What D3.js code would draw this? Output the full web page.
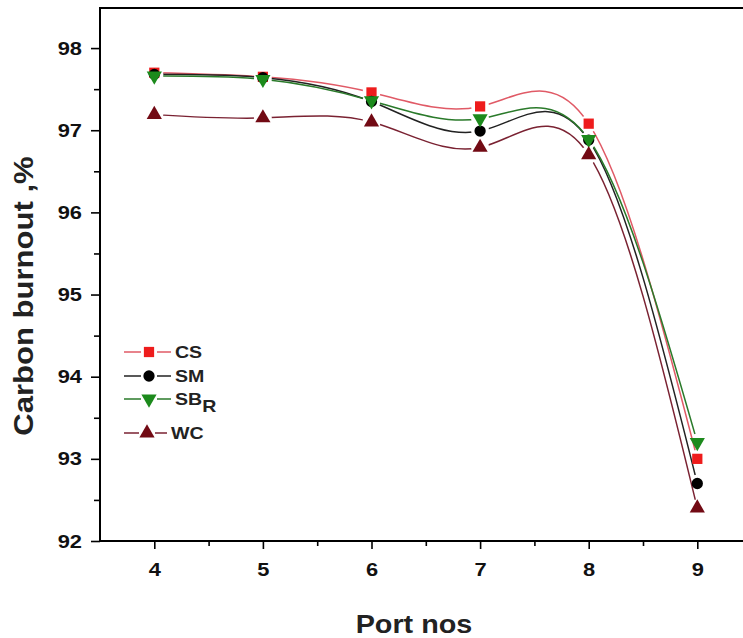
<!DOCTYPE html>
<html><head><meta charset="utf-8">
<script src="https://cdn.jsdelivr.net/npm/d3@7"></script>
<style>body{margin:0;background:#fff}svg{display:block}</style>
</head><body>
<script>
const ports = [4, 5, 6, 7, 8, 9];
const csVals = [97.70, 97.65, 97.46, 97.29, 97.08, 93.00];
const smVals = [97.68, 97.64, 97.35, 96.99, 96.88, 92.70];
const sbVals = [97.66, 97.62, 97.36, 97.14, 96.89, 93.20];
const wcVals = [97.19, 97.15, 97.10, 96.79, 96.70, 92.40];
const yTicks = [92, 93, 94, 95, 96, 97, 98];
const xTicks = [4, 5, 6, 7, 8, 9];
const seriesNames = ["CS", "SM", "SBR", "WC"];

const W = 743, H = 638;
const svg = d3.select("body").append("svg").attr("width", W).attr("height", H);
const x = d3.scaleLinear().domain([3.5, 9.5]).range([100, 751.6]);
const y = d3.scaleLinear().domain([92, 98.5]).range([541, 7]);

const series = [
  {name: "CS", vals: csVals, line: "#e05a66", fill: "#ee1c1c", sym: d3.symbolSquare, rot: 0, size: 105},
  {name: "SM", vals: smVals, line: "#222222", fill: "#000000", sym: d3.symbolCircle, rot: 0, size: 100},
  {name: "SBR", vals: sbVals, line: "#2a7a2a", fill: "#1c8a1c", sym: d3.symbolTriangle, rot: 180, size: 100},
  {name: "WC", vals: wcVals, line: "#7a2232", fill: "#720a14", sym: d3.symbolTriangle, rot: 0, size: 100}
];

const defs = svg.append("defs");
series.forEach((s, i) => {
  const m = defs.append("mask").attr("id", "m" + i).attr("maskUnits", "userSpaceOnUse")
    .attr("x", 0).attr("y", 0).attr("width", W).attr("height", H);
  m.append("rect").attr("width", W).attr("height", H).attr("fill", "#fff");
  ports.forEach((p, j) => m.append("circle").attr("cx", x(p)).attr("cy", y(s.vals[j])).attr("r", 9).attr("fill", "#000"));
});
defs.append("clipPath").attr("id", "plotclip").append("rect")
  .attr("x", 100).attr("y", 7).attr("width", 651).attr("height", 534);

const font = "'Liberation Sans', Arial, sans-serif";
const STRETCH = 1.15;
function stretch(sel) {
  sel.each(function () {
    const len = this.getComputedTextLength();
    d3.select(this).attr("textLength", len * STRETCH).attr("lengthAdjust", "spacingAndGlyphs");
  });
}

const yAxis = d3.axisLeft(y).tickValues(yTicks).tickSize(9).tickPadding(9).tickFormat(d3.format("d"));
const yMinor = d3.axisLeft(y).tickValues(d3.range(92.5, 98.5, 1)).tickSize(6).tickFormat("");
const xAxis = d3.axisBottom(x).tickValues(xTicks).tickSize(8).tickPadding(14).tickFormat(d3.format("d"));
const xMinor = d3.axisBottom(x).tickValues(d3.range(4.5, 9.5, 1)).tickSize(5).tickFormat("");

function styleAxis(g) {
  g.select(".domain").remove();
  g.selectAll("line").attr("stroke", "#000").attr("stroke-width", 1.6);
  g.selectAll("text").attr("font-family", font).attr("font-weight", "bold").attr("font-size", 19).attr("fill", "#111");
}
svg.append("g").attr("transform", "translate(100,0)").call(yAxis).call(styleAxis);
svg.append("g").attr("transform", "translate(100,0)").call(yMinor).call(styleAxis);
svg.append("g").attr("transform", "translate(0,541)").call(xAxis).call(styleAxis);
svg.append("g").attr("transform", "translate(0,541)").call(xMinor).call(styleAxis);

svg.append("line").attr("x1", 100).attr("x2", 100).attr("y1", 7).attr("y2", 541).attr("stroke", "#000").attr("stroke-width", 2);
svg.append("line").attr("x1", 99).attr("x2", W).attr("y1", 541).attr("y2", 541).attr("stroke", "#000").attr("stroke-width", 2);
svg.append("line").attr("x1", 99).attr("x2", W).attr("y1", 8).attr("y2", 8).attr("stroke", "#000").attr("stroke-width", 2);

const line = d3.line().x((d, i) => x(ports[i])).y(d => y(d)).curve(d3.curveNatural);
const plot = svg.append("g").attr("clip-path", "url(#plotclip)");
series.forEach((s, i) => {
  plot.append("path").attr("d", line(s.vals)).attr("fill", "none")
    .attr("stroke", s.line).attr("stroke-width", 1.5).attr("mask", "url(#m" + i + ")");
});
series.forEach(s => {
  plot.selectAll(null).data(s.vals).enter().append("path")
    .attr("d", d3.symbol().type(s.sym).size(s.size))
    .attr("transform", (d, j) => `translate(${x(ports[j])},${y(d)}) rotate(${s.rot})`)
    .attr("fill", s.fill);
});

const legY = [352, 376, 399, 433];
const leg = svg.append("g");
series.forEach((s, i) => {
  const yy = legY[i];
  const mx = i === 3 ? 147 : 149;
  const endX = i === 3 ? 167 : 171;
  leg.append("line").attr("x1", 124).attr("x2", mx - 8).attr("y1", yy).attr("y2", yy).attr("stroke", s.line).attr("stroke-width", 1.5);
  leg.append("line").attr("x1", mx + 8).attr("x2", endX).attr("y1", yy).attr("y2", yy).attr("stroke", s.line).attr("stroke-width", 1.5);
  leg.append("path").attr("d", d3.symbol().type(s.sym).size(s.size))
    .attr("transform", `translate(${mx},${yy}) rotate(${s.rot})`).attr("fill", s.fill);
  const t = leg.append("text").attr("x", endX + 4).attr("y", yy + 6)
    .attr("font-family", font).attr("font-weight", "bold").attr("font-size", 17).attr("fill", "#222");
  if (s.name === "SBR") {
    t.append("tspan").text("SB");
    t.append("tspan").attr("dy", 7).attr("font-size", 17).text("R");
  } else t.text(s.name);
});

svg.append("text").attr("class", "ttl").attr("transform", "translate(33,296) rotate(-90)").attr("text-anchor", "middle")
  .attr("font-family", font).attr("font-weight", "bold").attr("font-size", 27).attr("fill", "#222")
  .text("Carbon burnout ,%");
svg.append("text").attr("class", "ttl").attr("x", 414).attr("y", 633).attr("text-anchor", "middle")
  .attr("font-family", font).attr("font-weight", "bold").attr("font-size", 25).attr("fill", "#222")
  .text("Port nos");

stretch(svg.selectAll("text"));
</script>
</body></html>
